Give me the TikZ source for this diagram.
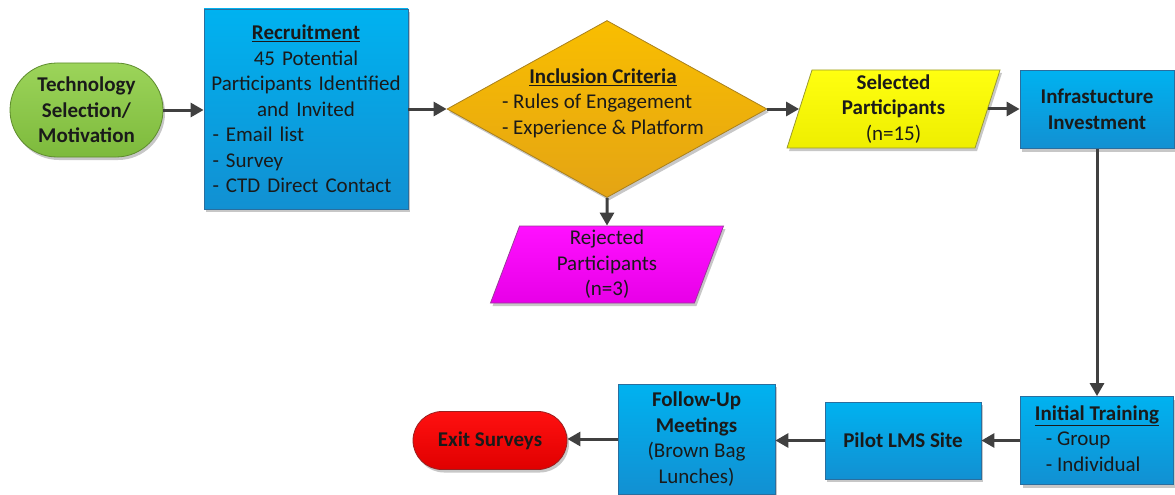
\documentclass[tikz,border=0pt]{standalone}
\usepackage{fontspec}
\setmainfont{Carlito}
\usetikzlibrary{shapes.geometric,shapes.misc,shadows,arrows.meta}
\definecolor{txt}{HTML}{1A1A1A}
\definecolor{arr}{HTML}{404040}
\definecolor{bluetop}{HTML}{00B2F0}
\definecolor{bluebot}{HTML}{1290D2}
\definecolor{blueedge}{HTML}{2A6E9E}
\definecolor{greentop}{HTML}{9CD45A}
\definecolor{greenbot}{HTML}{7DBA3C}
\definecolor{greenedge}{HTML}{5E8C2E}
\definecolor{orangetop}{HTML}{F9BE00}
\definecolor{orangebot}{HTML}{E4A414}
\definecolor{orangeedge}{HTML}{A8801E}
\definecolor{yellowtop}{HTML}{FFFF10}
\definecolor{yellowbot}{HTML}{EEEE00}
\definecolor{yellowedge}{HTML}{9A9A30}
\definecolor{magtop}{HTML}{FF10FF}
\definecolor{magbot}{HTML}{E800E8}
\definecolor{magedge}{HTML}{9A3A9A}
\definecolor{redtop}{HTML}{FF1010}
\definecolor{redbot}{HTML}{E00000}
\definecolor{rededge}{HTML}{9A2020}
\tikzset{
  every node/.style={font=\fontsize{21}{25.5}\selectfont, text=txt, inner sep=0pt, align=center},
  shad/.style={drop shadow={shadow xshift=2pt, shadow yshift=-3pt, opacity=0.22, fill=black}},
  bluebox/.style={rectangle, draw=blueedge, line width=0.8pt, top color=bluetop, bottom color=bluebot, shad},
  greenterm/.style={rounded rectangle, draw=greenedge, line width=0.8pt, top color=greentop, bottom color=greenbot, shad},
  redterm/.style={rounded rectangle, draw=rededge, line width=0.8pt, top color=redtop, bottom color=redbot, shad},
  decision/.style={diamond, draw=orangeedge, line width=0.8pt, top color=orangetop, bottom color=orangebot, shad},
  dataio/.style={trapezium, trapezium left angle=70, trapezium right angle=110, trapezium stretches body, line width=0.8pt, shad},
  flow/.style={draw=arr, line width=3pt, -{Triangle[length=13pt,width=14pt]}},
}
\begin{document}
\begin{tikzpicture}[x=1pt,y=-1pt]
\useasboundingbox (0,0) rectangle (1175,495);
\node[greenterm, minimum width=153pt, minimum height=94pt] (tech) at (86.5,110) {\textbf{Technology}\\\textbf{Selection/}\\\textbf{Motivation}};
\node[bluebox, minimum width=204pt, minimum height=200pt, text width=194pt] (rec) at (306,109)
  {\textbf{\underline{Recruitment}}\\45 Potential\\Participants Identified\\and Invited\\
   \makebox[\linewidth][l]{\,- Email list}\\\makebox[\linewidth][l]{\,- Survey}\\\makebox[\linewidth][l]{\,- CTD Direct Contact}};
\node[decision, minimum width=320pt, minimum height=177pt] (incl) at (607,109)
  {\makebox[0pt]{\hspace{-8pt}\smash{\raisebox{0pt}{\begin{tabular}{@{}l@{}}\multicolumn{1}{@{}c@{}}{\textbf{\underline{Inclusion Criteria}}}\\- Rules of Engagement\\- Experience \& Platform\end{tabular}}}}};
\node[dataio, draw=magedge, top color=magtop, bottom color=magbot, minimum width=233pt, minimum height=77pt, trapezium left angle=67, trapezium right angle=113] (rej) at (607,264.5)
  {Rejected\\Participants\\(n=3)};
\node[dataio, draw=yellowedge, top color=yellowtop, bottom color=yellowbot, minimum width=213pt, minimum height=78pt] (sel) at (893.5,109)
  {\textbf{Selected}\\\textbf{Participants}\\(n=15)};
\node[bluebox, minimum width=154pt, minimum height=78pt] (inf) at (1097,109.5) {\textbf{Infrastucture}\\\textbf{Investment}};
\node[bluebox, minimum width=153pt, minimum height=88pt] (init) at (1097,440.5)
  {\begin{tabular}{@{}l@{}}\multicolumn{1}{@{}c@{}}{\textbf{\underline{Initial Training}}}\\\hspace{11pt}- Group\\\hspace{11pt}- Individual\end{tabular}};
\node[bluebox, minimum width=156pt, minimum height=77pt] (pilot) at (903,440.5) {\textbf{Pilot LMS Site}};
\node[bluebox, minimum width=157pt, minimum height=110pt] (follow) at (696.5,439) {\textbf{Follow-Up}\\\textbf{Meetings}\\(Brown Bag\\Lunches)};
\node[redterm, minimum width=154pt, minimum height=58pt] (exit) at (490,440.5) {\textbf{Exit Surveys}};
\draw[flow] (tech.east) -- (tech.east -| rec.west);
\draw[flow] (rec.east) -- (rec.east -| incl.west);
\draw[flow] (incl.east) -- (incl.east -| sel.west);
\draw[flow] (incl.south) -- (rej.north);
\draw[flow] (sel.east) -- (sel.east -| inf.west);
\draw[flow] (inf.south) -- (init.north);
\draw[flow] (init.west) -- (init.west -| pilot.east);
\draw[flow] (pilot.west) -- (pilot.west -| follow.east);
\draw[flow] (follow.west) -- (follow.west -| exit.east);
\end{tikzpicture}
\end{document}
